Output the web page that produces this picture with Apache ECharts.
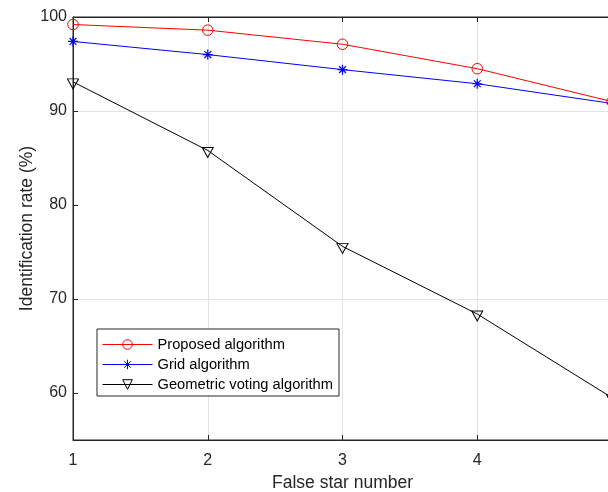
<!DOCTYPE html>
<html>
<head>
<meta charset="utf-8">
<script src="https://cdn.jsdelivr.net/npm/echarts@6/dist/echarts.min.js"></script>
<style>
  html, body { margin: 0; padding: 0; background: #fff; }
  #chart { width: 608px; height: 492px; }
</style>
</head>
<body>
<div id="chart"></div>
<script>
// false star number on x, identification rate (%) on y
const falseStars = [1, 2, 3, 4, 5];
const proposed = [99.2, 98.6, 97.1, 94.5, 91.0];
const grid = [97.4, 96.0, 94.4, 92.9, 90.8];
const geometric = [93.1, 85.8, 75.6, 68.4, 59.5];
const yTicks = [60, 70, 80, 90, 100];

const font = '"Liberation Sans", Arial, Helvetica, sans-serif';
const ink = '#262626';
const asterisk = 'path://M0,5L10,5M5,0L5,10M1.6,1.6L8.4,8.4M8.4,1.6L1.6,8.4';

function pairs(vals) {
  return falseStars.map((x, i) => [x, vals[i]]);
}

const chart = echarts.init(document.getElementById('chart'), null, { renderer: 'canvas' });

const option = {
  animation: false,
  backgroundColor: '#fff',
  textStyle: { fontFamily: font, color: ink },
  grid: {
    left: 73, top: 17, width: 539, height: 423,
    outerBoundsMode: 'none', containLabel: false,
    show: true, borderColor: ink, borderWidth: 1, backgroundColor: 'transparent'
  },
  legend: {
    orient: 'vertical',
    left: 97, top: 329,
    padding: [8, 6, 4, 5],
    itemGap: 5,
    itemWidth: 50,
    itemHeight: 12,
    backgroundColor: '#fff',
    borderColor: ink,
    borderWidth: 1,
    borderRadius: 0,
    lineStyle: { width: 1 },
    itemStyle: { borderWidth: 1 },
    textStyle: { fontSize: 14.7, color: '#000', fontFamily: font },
    data: ['Proposed algorithm', 'Grid algorithm', 'Geometric voting algorithm']
  },
  xAxis: [
    {
      type: 'value', min: 1, max: 5, interval: 1,
      name: 'False star number',
      nameLocation: 'middle', nameGap: 34, nameMoveOverlap: false,
      nameTextStyle: { fontSize: 17.5, color: ink, fontFamily: font },
      axisLine: { show: true, lineStyle: { color: ink, width: 1 } },
      axisTick: { show: true, inside: true, length: 5, lineStyle: { color: ink } },
      axisLabel: { fontSize: 16, color: ink, margin: 13, fontFamily: font },
      splitLine: { show: true, lineStyle: { color: '#e3e3e3', width: 1 } }
    },
    {
      type: 'value', min: 1, max: 5, interval: 1, position: 'top',
      axisLine: { show: true, lineStyle: { color: ink, width: 1 } },
      axisTick: { show: true, inside: true, length: 5, lineStyle: { color: ink } },
      axisLabel: { show: false },
      splitLine: { show: false }
    }
  ],
  yAxis: {
    type: 'value', min: 55, max: 100, interval: 5,
    name: 'Identification rate (%)',
    nameLocation: 'middle', nameGap: 37, nameRotate: 90, nameMoveOverlap: false,
    nameTextStyle: { fontSize: 17.5, color: ink, fontFamily: font },
    axisLine: { show: true, lineStyle: { color: ink, width: 1 } },
    axisTick: { show: true, inside: true, length: 5, lineStyle: { color: ink }, customValues: yTicks },
    axisLabel: { fontSize: 16, color: ink, margin: 6, fontFamily: font, customValues: yTicks },
    splitLine: { show: true, lineStyle: { color: ['transparent', '#e3e3e3'], width: 1 } }
  },
  series: [
    {
      name: 'Proposed algorithm', type: 'line', xAxisIndex: 0,
      data: pairs(proposed),
      symbol: 'circle', symbolSize: 10.5,
      lineStyle: { color: '#ff0000', width: 1 },
      itemStyle: { color: 'rgba(0,0,0,0)', borderColor: '#ff0000', borderWidth: 1 },
      z: 3
    },
    {
      name: 'Grid algorithm', type: 'line', xAxisIndex: 0,
      data: pairs(grid),
      symbol: asterisk, symbolSize: 10,
      lineStyle: { color: '#0000ff', width: 1 },
      itemStyle: { color: '#0000ff', borderColor: '#0000ff', borderWidth: 1.2 },
      z: 3
    },
    {
      name: 'Geometric voting algorithm', type: 'line', xAxisIndex: 0,
      data: pairs(geometric),
      symbol: 'triangle', symbolRotate: 180, symbolSize: [11, 10], symbolOffset: [0, 2],
      lineStyle: { color: '#000000', width: 1 },
      itemStyle: { color: 'rgba(0,0,0,0)', borderColor: '#000000', borderWidth: 1 },
      z: 3
    }
  ]
};

chart.setOption(option);
</script>
</body>
</html>
